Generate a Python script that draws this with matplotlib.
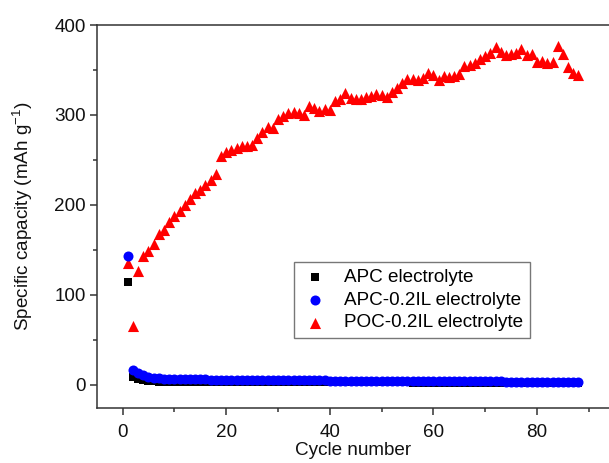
import matplotlib
matplotlib.use("Agg")
import matplotlib.pyplot as plt
from matplotlib.ticker import MultipleLocator

plt.rcParams['font.family'] = ['Liberation Sans', 'DejaVu Sans']
plt.rcParams['mathtext.default'] = 'regular'

cycles = list(range(1, 89))

apc = [114, 9, 7, 5.5, 4.5, 4, 3.5, 3.2, 3.2, 3.1,
       3.1, 3, 3, 3, 3, 3, 3, 3, 3, 3,
       3, 3, 3, 3, 3, 2.9, 2.9, 2.9, 2.9, 2.9,
       2.9, 2.9, 2.9, 2.9, 2.8, 2.8, 2.8, 2.8, 2.8, 2.8,
       2.8, 2.8, 2.8, 2.8, 2.8, 2.7, 2.7, 2.7, 2.7, 2.7,
       2.7, 2.7, 2.7, 2.7, 2.7, 2.6, 2.6, 2.6, 2.6, 2.6,
       2.6, 2.6, 2.6, 2.6, 2.6, 2.5, 2.5, 2.5, 2.5, 2.5,
       2.5, 2.5, 2.5, 2.5, 2.5, 2.4, 2.4, 2.4, 2.4, 2.4,
       2.4, 2.4, 2.4, 2.4, 2.4, 2.3, 2.3, 2.3]

apc_il = [143, 17, 13, 10.5, 9, 8, 7.5, 7, 7, 6.8,
          6.6, 6.5, 6.4, 6.3, 6.2, 6.1, 6, 6, 5.9, 5.8,
          5.8, 5.7, 5.6, 5.6, 5.5, 5.5, 5.4, 5.4, 5.3, 5.3,
          5.2, 5.2, 5.1, 5.1, 5, 5, 5, 4.9, 4.9, 4.8,
          4.8, 4.8, 4.7, 4.7, 4.6, 4.6, 4.6, 4.5, 4.5, 4.5,
          4.4, 4.4, 4.4, 4.3, 4.3, 4.3, 4.2, 4.2, 4.2, 4.1,
          4.1, 4.1, 4, 4, 4, 4, 3.9, 3.9, 3.9, 3.8,
          3.8, 3.8, 3.8, 3.7, 3.7, 3.7, 3.7, 3.6, 3.6, 3.6,
          3.6, 3.5, 3.5, 3.5, 3.5, 3.4, 3.4, 3.4]

poc_il = [135, 66, 127, 143, 149, 157, 168, 172, 181, 188,
          193, 200, 207, 213, 217, 222, 228, 234, 254, 259,
          261, 263, 266, 265, 267, 274, 281, 287, 285, 295,
          299, 302, 303, 302, 300, 310, 308, 304, 307, 305,
          315, 318, 324, 319, 318, 318, 320, 321, 323, 322,
          320, 326, 330, 336, 340, 340, 339, 341, 347, 344,
          339, 343, 342, 343, 345, 354, 356, 358, 362, 365,
          369, 376, 370, 367, 368, 369, 373, 367, 368, 359,
          360, 358, 359, 377, 368, 353, 347, 344]

labels = ['APC electrolyte', 'APC-0.2IL electrolyte', 'POC-0.2IL electrolyte']

W, H = 609, 463
fig = plt.figure(figsize=(W / 100, H / 100), dpi=100)
ax = fig.add_axes([96.7 / W, (H - 408.3) / H, (W - 96.7) / W, (408.3 - 25) / H])

ax.scatter(cycles, apc, marker='s', s=28, color='black', linewidths=0, label=labels[0], zorder=3)
ax.scatter(cycles, apc_il, marker='o', s=52, color='#0000ff', linewidths=0, label=labels[1], zorder=4)
ax.scatter(cycles, poc_il, marker='^', s=64, color='#ff0000', linewidths=0, label=labels[2], zorder=3)

ax.set_xlim(-5, 93.9)
ax.set_ylim(-26, 400)
ax.xaxis.set_major_locator(MultipleLocator(20))
ax.xaxis.set_minor_locator(MultipleLocator(10))
ax.yaxis.set_major_locator(MultipleLocator(100))
ax.yaxis.set_minor_locator(MultipleLocator(50))

for side in ['left', 'bottom', 'top']:
    ax.spines[side].set_color('#333333')
    ax.spines[side].set_linewidth(1.1)
ax.spines['right'].set_visible(False)

ax.tick_params(which='major', direction='out', length=5, width=1.1, color='#333333',
               labelsize=13.6, labelcolor='#111111')
ax.tick_params(axis='x', which='major', pad=6)
ax.tick_params(axis='y', which='major', pad=3)
ax.tick_params(which='minor', direction='out', length=3, width=1.1, color='#333333')

ax.set_xlabel('Cycle number', fontsize=13.6, color='#111111', labelpad=1)
ax.set_ylabel('Specific capacity (mAh g$^{-1}$)', fontsize=13.6, color='#111111', labelpad=14)

leg = ax.legend(loc='upper left', bbox_to_anchor=(0.385, 0.382), fontsize=13.6,
                frameon=True, fancybox=False, shadow=False, edgecolor='#555555',
                handletextpad=0.8, borderpad=0.35, labelspacing=0.3, handlelength=1.5,
                scatterpoints=1, borderaxespad=0)
leg.get_frame().set_linewidth(1.0)

fig.savefig('out.png', dpi=100)
